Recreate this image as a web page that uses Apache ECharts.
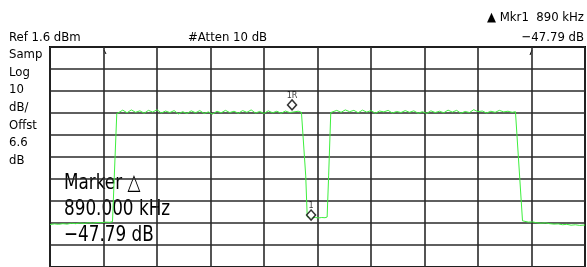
<!DOCTYPE html>
<html>
<head>
<meta charset="utf-8">
<script src="https://cdn.jsdelivr.net/npm/echarts@6/dist/echarts.min.js"></script>
<style>
  html, body { margin: 0; padding: 0; background: #fff; }
  #chart { width: 587px; height: 267px; }
</style>
</head>
<body>
<div id="chart"></div>
<script>
// analyzer settings
const REF_LEVEL = 1.6;        // dBm, top graticule line
const DB_PER_DIV = 10;
const SPAN_MHZ = 25;          // 2.5 MHz / div, centre at 0

// trace: [frequency offset MHz, level dBm]
const lowLeft = [
    [-12.5, -79.1], [-12.3, -78.8], [-12.1, -79.0], [-11.9, -78.7], [-11.7, -78.9],
    [-11.5, -78.5], [-11.3, -78.7], [-11.1, -78.4], [-10.9, -78.6], [-10.7, -78.3],
    [-10.5, -78.5], [-10.3, -78.2], [-10.1, -78.3], [-9.9, -78.0], [-9.7, -78.1],
    [-9.58, -77.8]
];
const bandLeft = [
    [-9.38, -28.7], [-9.3, -27.8], [-9.1, -27.1], [-8.9, -28.3], [-8.7, -27.0], [-8.5, -28.1],
    [-8.3, -27.4], [-8.1, -28.5], [-7.9, -27.2], [-7.7, -28.0], [-7.5, -26.9],
    [-7.3, -28.4], [-7.1, -27.5], [-6.9, -28.2], [-6.7, -27.3], [-6.5, -28.8],
    [-6.3, -27.8], [-6.1, -28.6], [-5.9, -27.4], [-5.7, -28.3], [-5.5, -27.3],
    [-5.3, -28.6], [-5.1, -27.9], [-4.9, -28.9], [-4.7, -27.6], [-4.5, -28.3],
    [-4.3, -27.2], [-4.1, -28.2], [-3.9, -27.6], [-3.7, -28.5], [-3.5, -27.3],
    [-3.3, -28.1], [-3.1, -27.0], [-2.9, -28.4], [-2.7, -27.7], [-2.5, -28.6],
    [-2.3, -27.4], [-2.1, -28.3], [-1.9, -27.6], [-1.7, -28.5], [-1.5, -27.5],
    [-1.3, -28.2], [-1.1, -27.9], [-0.9, -27.6], [-0.75, -28.1], [-0.68, -28.6]
];
const notch = [
    [-0.55, -57.0], [-0.48, -75.6], [-0.4, -75.9], [-0.25, -76.0], [-0.1, -75.9],
    [0.05, -76.1], [0.2, -75.9], [0.35, -76.0], [0.45, -75.7], [0.52, -57.0]
];
const bandRight = [
    [0.62, -28.2], [0.7, -27.9], [0.9, -27.2], [1.1, -28.1], [1.3, -27.0], [1.5, -27.8],
    [1.7, -27.2], [1.9, -28.3], [2.1, -27.1], [2.3, -28.0], [2.5, -27.3],
    [2.7, -28.5], [2.9, -27.5], [3.1, -27.9], [3.3, -27.2], [3.5, -28.4],
    [3.7, -27.7], [3.9, -28.2], [4.1, -27.3], [4.3, -28.1], [4.5, -27.4],
    [4.7, -28.5], [4.9, -27.8], [5.1, -28.6], [5.3, -27.4], [5.5, -28.2],
    [5.7, -27.6], [5.9, -28.3], [6.1, -27.1], [6.3, -28.0], [6.5, -27.2],
    [6.7, -28.5], [6.9, -27.7], [7.1, -28.2], [7.3, -26.9], [7.5, -27.8],
    [7.7, -27.5], [7.9, -28.4], [8.1, -27.6], [8.3, -28.1], [8.5, -27.2],
    [8.7, -27.9], [8.9, -27.6], [9.1, -28.1], [9.25, -27.8], [9.33, -28.6]
];
const lowRight = [
    [9.58, -77.4], [9.65, -77.7], [9.85, -78.0], [10.05, -77.9], [10.25, -78.3],
    [10.45, -78.5], [10.65, -78.3], [10.85, -78.7], [11.05, -78.9], [11.25, -78.8],
    [11.45, -79.2], [11.65, -79.0], [11.85, -79.4], [12.05, -79.2], [12.25, -79.5],
    [12.5, -79.3]
];

// markers: name, frequency MHz, level dBm (delta -47.79 dB)
const markers = [
    ['1R', -1.19, -27.9],
    ['1', -0.30, -75.7]
];

const sideLabels = ['Samp', 'Log', '10', 'dB/', 'Offst', '6.6', 'dB'];
const markerReadout = ['Marker \u25B3', '890.000 kHz', '\u221247.79 dB'];

const FONT = '"DejaVu Sans Condensed", "Liberation Sans Narrow", "DejaVu Sans", sans-serif';

const trace = [].concat(lowLeft, bandLeft, notch, bandRight, lowRight)
    .map(p => [p[0], p[1] - REF_LEVEL]);

const chart = echarts.init(document.getElementById('chart'));

const graphics = [
    { type: 'text', left: 9, top: 31, style: { text: 'Ref 1.6 dBm', font: '13px ' + FONT, fill: '#000' } },
    { type: 'text', left: 188, top: 31, style: { text: '#Atten 10 dB', font: '13px ' + FONT, fill: '#000' } },
    { type: 'text', right: 3, top: 11, style: { text: '\u25B2 Mkr1  890 kHz', font: '13px ' + FONT, fill: '#000' } },
    { type: 'text', right: 3, top: 31, style: { text: '\u221247.79 dB', font: '13px ' + FONT, fill: '#000' } },
    // display-line ticks at the top of the graticule
    { type: 'line', shape: { x1: 104, y1: 50, x2: 106, y2: 54 }, style: { stroke: '#000', lineWidth: 1 } },
    { type: 'line', shape: { x1: 532, y1: 50, x2: 530, y2: 55 }, style: { stroke: '#000', lineWidth: 1 } }
];
sideLabels.forEach((t, i) => {
    graphics.push({ type: 'text', left: 9, top: 48 + i * 17.7, style: { text: t, font: '13px ' + FONT, fill: '#000' } });
});
markerReadout.forEach((t, i) => {
    graphics.push({
        type: 'text', x: 64, y: 172 + i * 26, scaleX: 0.85,
        style: { text: t, font: '22px ' + FONT, fill: '#000' }
    });
});

chart.setOption({
    animation: false,
    backgroundColor: '#fff',
    grid: {
        left: 50,
        top: 47,
        width: 535,
        height: 227,
        show: true,
        borderColor: '#000',
        borderWidth: 2
    },
    xAxis: {
        type: 'value',
        min: -SPAN_MHZ / 2,
        max: SPAN_MHZ / 2,
        interval: SPAN_MHZ / 10,
        axisLine: { show: false },
        axisTick: { show: false },
        axisLabel: { show: false },
        splitLine: { lineStyle: { color: '#2a2a2a', width: 1.6 } }
    },
    yAxis: {
        type: 'value',
        min: -10 * DB_PER_DIV,
        max: 0,
        interval: DB_PER_DIV,
        axisLine: { show: false },
        axisTick: { show: false },
        axisLabel: { show: false },
        splitLine: { lineStyle: { color: '#2a2a2a', width: 1.6 } }
    },
    graphic: graphics,
    series: [
        {
            name: 'trace',
            type: 'line',
            data: trace,
            showSymbol: false,
            lineStyle: { color: '#3def3d', width: 1 },
            z: 3
        },
        {
            name: 'markers',
            type: 'scatter',
            data: markers.map(m => ({
                value: [m[1], m[2] - REF_LEVEL],
                name: m[0],
                symbolOffset: [0, m[0] === '1R' ? -7 : -2]
            })),
            symbol: 'diamond',
            symbolSize: [9, 10],
            itemStyle: { color: '#fff', borderColor: '#000', borderWidth: 1.5 },
            label: {
                show: true,
                position: 'top',
                distance: -1,
                formatter: p => p.name,
                fontFamily: FONT,
                fontSize: 9,
                color: '#000'
            },
            z: 4
        }
    ]
});
</script>
</body>
</html>
